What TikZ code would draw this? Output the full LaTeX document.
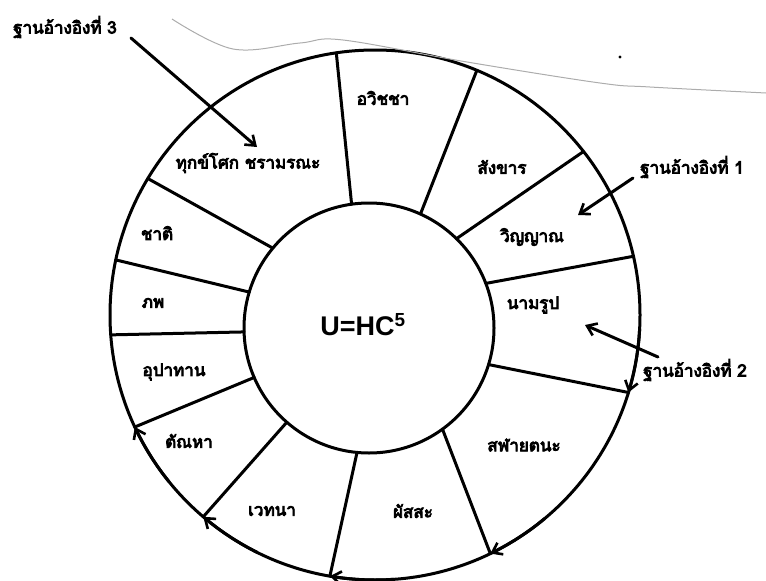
\documentclass[tikz,border=0pt]{standalone}
\usepackage{fontspec}
\newfontfamily\thaifont[Script=Thai, FakeBold=5]{Loma}
\newfontfamily\latinfont{Liberation Sans}
\usetikzlibrary{arrows.meta,calc}
\begin{document}
\begin{tikzpicture}[x=1pt,y=-1pt,
  wheel/.style={line width=3pt, line cap=round},
  lbl/.style={font=\thaifont\fontsize{17}{20}\selectfont, inner sep=0pt},
  reflbl/.style={font=\thaifont\fontsize{17}{20}\selectfont, inner sep=0pt, anchor=west},
  tip/.style={-{Straight Barb[length=9pt,width=13pt,line width=2.6pt]}},
  scan/.style={gray!65, line width=1pt}
]
\path[use as bounding box] (0,0) rectangle (766,581);

% centres
\coordinate (OC) at (375,315);
\coordinate (IC) at (369,328);

% hub
\node[circle, draw, line width=3pt, minimum size=250pt, inner sep=0pt] (hub) at (IC) {};
\node[font=\latinfont\bfseries\fontsize{27}{30}\selectfont, inner sep=0pt] (formula) at (363,325) {U=HC\textsuperscript{5}};

% outer ring
\draw[wheel] (OC) circle[radius=265];

% junctions on the outer ring
\foreach \n/\a in {1/261.6, 2/292.6, 3/321.9, 4/347.2, 5/17, 6/64.2, 7/99.8, 8/130.4, 9/155, 10/175.7, 11/192, 12/211}
  \coordinate (o\n) at ($(OC)+(\a:265)$);
% junctions on the hub
\foreach \n/\a in {1/262, 2/294.3, 3/314.4, 4/339.1, 5/17, 6/54, 7/95.5, 8/131.1, 9/156.7, 10/178.2, 11/196.7, 12/219.7}
  \coordinate (i\n) at ($(IC)+(\a:125)$);

% spokes
\foreach \n in {1,...,12}
  \draw[wheel] (i\n) -- (o\n);

% arrowheads along the ring (clockwise)
\foreach \a in {17, 64.2, 99.8, 130.4, 155}
  \draw[wheel, tip] plot[domain=\a-14:\a, samples=8] ({375+265*cos(\x)},{315+265*sin(\x)});

% segment labels
\node[lbl] (avijja) at (383,98) {อวิชชา};
\node[lbl] (sankhara) at (502,167) {สังขาร};
\node[lbl] (vinnana) at (532,237) {วิญญาณ};
\node[lbl] (namarupa) at (533,305) {นามรูป};
\node[lbl] (salayatana) at (524,445) {สฬายตนะ};
\node[lbl] (phassa) at (413,511) {ผัสสะ};
\node[lbl] (vedana) at (272,511) {เวทนา};
\node[lbl] (tanha) at (189,441) {ตัณหา};
\node[lbl] (upadana) at (174,372) {อุปาทาน};
\node[lbl] (bhava) at (153,303) {ภพ};
\node[lbl] (jati) at (157,233) {ชาติ};
\node[lbl] (jara) at (248,163) {ทุกข์โศก ชรามรณะ};

% reference labels
\node[reflbl] (ref3) at (13,27) {ฐานอ้างอิงที่ 3};
\node[reflbl] (ref1) at (640,167) {ฐานอ้างอิงที่ 1};
\node[reflbl] (ref2) at (643,370) {ฐานอ้างอิงที่ 2};

\coordinate (r3a) at (131,38);  \coordinate (r3b) at (257,147);
\coordinate (r1a) at (633,178); \coordinate (r1b) at (578,215);
\coordinate (r2a) at (658,357); \coordinate (r2b) at (585,325);
\draw[wheel, tip] (r3a) -- (r3b);
\draw[wheel, tip] (r1a) -- (r1b);
\draw[wheel, tip] (r2a) -- (r2b);

% scanned page edge and speck
\draw[scan] plot[smooth, tension=0.6] coordinates {(172,19) (233,49) (300,43) (343,40) (467,62) (600,83) (650,87) (766,93)};
\fill (620,57) circle[radius=1.6];
\end{tikzpicture}
\end{document}
